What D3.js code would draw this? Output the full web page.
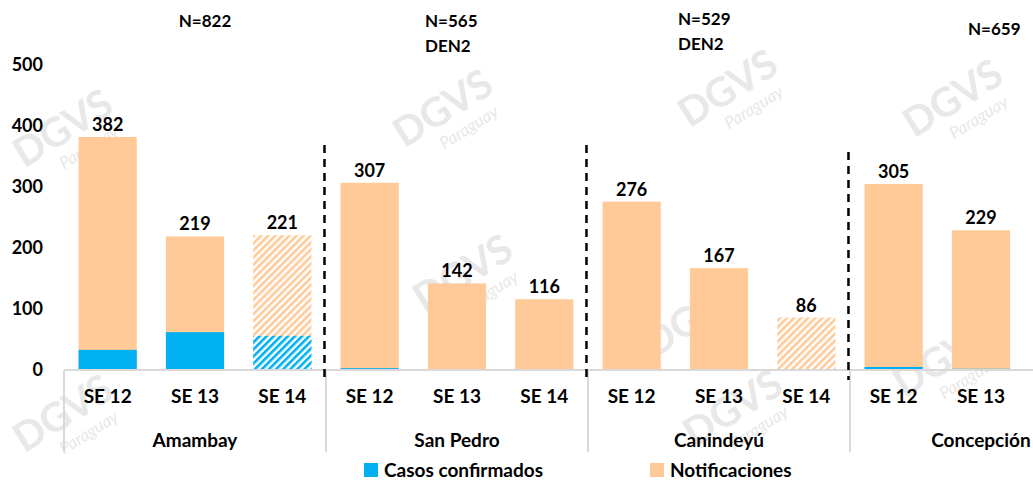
<!DOCTYPE html>
<html>
  <head>
    <title>Notificaciones y casos confirmados por departamento</title>
    <script src="https://d3js.org/d3.v7.min.js"></script>
    <style>
      body { margin: 0; background: #fff; }
      text { font-family: Lato, "Open Sans", sans-serif; font-weight: bold; fill: #000; }
      .wm text { fill: #e8e8e8; }
    </style>
  </head>
  <body>
    <svg width="1033" height="483"></svg>
    <script>
      // data
      var groups = ["Amambay", "San Pedro", "Canindeyú", "Concepción"];
      var weeks = ["SE 12", "SE 13", "SE 14"];
      var groupNotes = [["N=822"], ["N=565", "DEN2"], ["N=529", "DEN2"], ["N=659"]];
      var categories = [
        "Amambay|SE 12", "Amambay|SE 13", "Amambay|SE 14",
        "San Pedro|SE 12", "San Pedro|SE 13", "San Pedro|SE 14",
        "Canindeyú|SE 12", "Canindeyú|SE 13", "Canindeyú|SE 14",
        "Concepción|SE 12", "Concepción|SE 13"
      ];
      var notificaciones = [382, 219, 221, 307, 142, 116, 276, 167, 86, 305, 229];
      var confirmados = [33, 62, 56, 3, 0, 0, 0, 0, 0, 5, 2];
      var preliminar = [false, false, true, false, false, false, false, false, true, false, false];
      var yTicks = [0, 100, 200, 300, 400, 500];

      var blue = "#00b0f0", peach = "#ffca98";
      var svg = d3.select("svg");

      // hatch patterns for the preliminary week
      var defs = svg.append("defs");
      [["hatchPeach", peach], ["hatchBlue", blue]].forEach(function (p) {
        var pat = defs.append("pattern")
          .attr("id", p[0])
          .attr("patternUnits", "userSpaceOnUse")
          .attr("width", 5).attr("height", 5)
          .attr("patternTransform", "rotate(45)");
        pat.append("rect").attr("width", 5).attr("height", 5).attr("fill", "#fff");
        pat.append("rect").attr("width", 2.6).attr("height", 5).attr("fill", p[1]);
      });

      // watermarks (faint)
      var wmSpots = [[70, 140], [70, 425], [450, 120], [470, 285], [735, 100], [740, 420], [960, 110], [700, 330], [950, 370]];
      var wm = svg.append("g").attr("class", "wm");
      wmSpots.forEach(function (s) {
        var g = wm.append("g").attr("transform", "translate(" + s[0] + "," + s[1] + ") rotate(-32)");
        g.append("text").attr("text-anchor", "middle").style("font-size", "40px").text("DGVS");
        g.append("text").attr("text-anchor", "middle").attr("y", 22).attr("x", 12)
          .style("font-size", "17px").style("font-weight", "normal").style("font-style", "italic").text("Paraguay");
      });

      var x = d3.scaleBand()
        .domain(categories)
        .range([64, 64 + 11 * 87.33])
        .paddingInner(1 / 3)
        .paddingOuter(1 / 6);
      var step = x.step();

      var y = d3.scaleLinear().domain([0, 500]).range([370, 65]);

      // y axis labels
      svg.append("g")
        .attr("transform", "translate(43,0)")
        .call(d3.axisLeft(y).tickValues(yTicks).tickSize(0).tickPadding(0))
        .call(function (g) { g.select(".domain").remove(); })
        .selectAll("text")
        .style("font-size", "18px")
        .style("font-family", "Lato, sans-serif");

      // bars
      var bars = svg.append("g");
      categories.forEach(function (c, i) {
        bars.append("rect")
          .attr("x", x(c)).attr("width", x.bandwidth())
          .attr("y", y(notificaciones[i]))
          .attr("height", y(0) - y(notificaciones[i]))
          .attr("fill", preliminar[i] ? "url(#hatchPeach)" : peach);
        if (confirmados[i] > 0) {
          bars.append("rect")
            .attr("x", x(c)).attr("width", x.bandwidth())
            .attr("y", y(confirmados[i]))
            .attr("height", y(0) - y(confirmados[i]))
            .attr("fill", preliminar[i] ? "url(#hatchBlue)" : blue);
        }
        bars.append("text")
          .attr("x", x(c) + x.bandwidth() / 2)
          .attr("y", y(notificaciones[i]) - 6)
          .attr("text-anchor", "middle")
          .style("font-size", "18px")
          .text(notificaciones[i]);
        svg.append("text")
          .attr("x", x(c) + x.bandwidth() / 2)
          .attr("y", 403)
          .attr("text-anchor", "middle")
          .style("font-size", "19px")
          .text(c.split("|")[1]);
      });

      // category axis line and group separators
      svg.append("line")
        .attr("x1", 64).attr("x2", 1033)
        .attr("y1", y(0)).attr("y2", y(0))
        .attr("stroke", "#d9d9d9").attr("stroke-width", 2);
      groups.forEach(function (g, gi) {
        var x0 = x.range()[0] + gi * 3 * step;
        svg.append("line")
          .attr("x1", x0).attr("x2", x0)
          .attr("y1", y(0)).attr("y2", 452)
          .attr("stroke", "#d9d9d9").attr("stroke-width", 2);
        svg.append("text")
          .attr("x", x0 + 1.5 * step)
          .attr("y", 447)
          .attr("text-anchor", "middle")
          .style("font-size", "19px")
          .text(g);
        if (gi > 0) {
          svg.append("line")
            .attr("x1", x0 - 1.5).attr("x2", x0 - 1.5)
            .attr("y1", gi === 3 ? 152 : 145).attr("y2", 380)
            .attr("stroke", "#000").attr("stroke-width", 2.5)
            .attr("stroke-dasharray", "8,6");
        }
      });

      // N annotations
      var notePos = [[205, 27, "middle"], [425, 27, "start"], [678, 25, "start"], [968, 35, "start"]];
      groupNotes.forEach(function (lines, gi) {
        lines.forEach(function (t, li) {
          svg.append("text")
            .attr("x", notePos[gi][0])
            .attr("y", notePos[gi][1] + li * 25)
            .attr("text-anchor", notePos[gi][2])
            .style("font-size", "17px")
            .text(t);
        });
      });

      // legend
      var legend = [["Casos confirmados", blue, 364], ["Notificaciones", peach, 650]];
      legend.forEach(function (l) {
        svg.append("rect").attr("x", l[2]).attr("y", 463).attr("width", 14).attr("height", 14).attr("fill", l[1]);
        svg.append("text").attr("x", l[2] + 20).attr("y", 477).style("font-size", "19px").text(l[0]);
      });
    </script>
  </body>
</html>
